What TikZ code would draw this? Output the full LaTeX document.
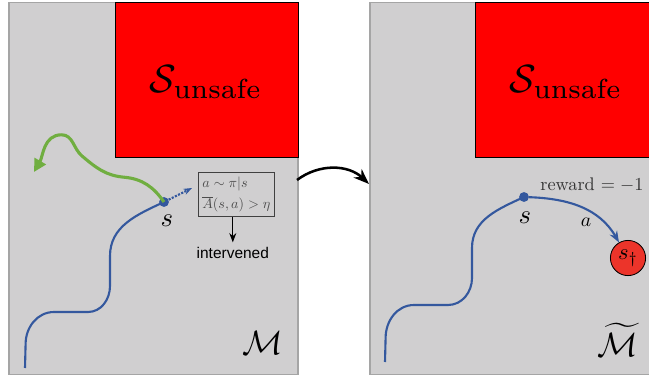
\documentclass[tikz,border=0pt]{standalone}
\usepackage{amsmath}
\usepackage{fontspec}
\newfontfamily\helv{Liberation Sans}
\usetikzlibrary{arrows.meta}
\definecolor{panelgray}{RGB}{208,207,208}
\definecolor{panelborder}{RGB}{165,165,165}
\definecolor{trajblue}{RGB}{52,88,158}
\definecolor{escgreen}{RGB}{112,174,64}
\definecolor{deadred}{RGB}{236,52,42}
\begin{document}
\begin{tikzpicture}[>=Stealth,
    panel/.style={fill=panelgray, draw=panelborder, line width=0.8pt},
    unsafe/.style={fill=red, draw=black, line width=0.6pt},
    traj/.style={trajblue, line width=1.5pt},
    dot/.style={circle, fill=trajblue, inner sep=0pt, minimum size=7pt},
    check/.style={draw=black!75, line width=0.6pt, text=black!70, align=left, inner sep=3pt},
    danger/.style={circle, fill=deadred, draw=black, line width=0.6pt, inner sep=0pt, minimum size=0.88cm}]
    \useasboundingbox (0,0) rectangle (16.225,9.4);

    % Panels and unsafe sets
    \draw[panel] (0.225,0.03) rectangle (7.45,9.33);
    \draw[unsafe] (2.875,5.475) rectangle (7.45,9.33);
    \node[scale=2.8] (unsafeL) at (5.15,7.35) {$\mathcal{S}_{\text{unsafe}}$};
    \draw[panel] (9.25,0.03) rectangle (16.6,9.33);
    \draw[unsafe] (11.875,5.475) rectangle (16.6,9.33);
    \node[scale=2.8] (unsafeR) at (14.15,7.35) {$\mathcal{S}_{\text{unsafe}}$};

    % Left: original MDP
    \node[dot] (sL) at (4.1,4.35) {};
    \node[scale=1.9] (sLlab) at (4.175,3.88) {$s$};
    \draw[traj] (0.625,0.2) -- (0.64,0.8) to[out=90,in=180] (1.35,1.6) -- (2.2,1.6)
        to[out=0,in=-90] (2.75,2.25) -- (2.75,3.0) to[out=90,in=205] (sL.center);
    \draw[escgreen, line width=2.2pt, -{Triangle[length=9pt,width=9pt]}] (sL.center)
        to[out=125,in=-5] (3.1,4.97) to[out=175,in=-40] (2.05,5.5)
        to[out=140,in=0] (1.54,6.03) to[out=180,in=60] (0.85,5.1);
    \node[check] (cond) at (5.91,4.54) {$a\sim\pi|s$\\[3pt]$\overline{A}(s,a)>\eta$};
    \coordinate (aL) at (4.8,4.7);
    \draw[traj, densely dotted, -{Stealth[length=6pt]}] (sL) -- (aL);
    \node[font=\helv\fontsize{11}{13}\selectfont] (interv) at (5.82,3.075) {intervened};
    \draw[->, thick] (cond.south -| interv.north) -- (interv.north);
    \node[scale=2.4] (M) at (6.575,0.825) {$\mathcal{M}$};

    % Transformation
    \coordinate (outL) at (7.425,4.9);
    \coordinate (inR) at (9.225,4.8);
    \draw[->, line width=1.8pt] (outL) to[bend left=40] (inR);

    % Right: modified MDP
    \node[dot] (sR) at (13.1,4.475) {};
    \node[scale=1.9] (sRlab) at (13.125,3.95) {$s$};
    \draw[traj] (9.625,0.35) -- (9.64,0.95) to[out=90,in=180] (10.35,1.775) -- (11.2,1.775)
        to[out=0,in=-90] (11.8,2.45) -- (11.8,3.2) to[out=90,in=205] (sR.center);
    \node[danger] (sdag) at (15.7,2.95) {\scalebox{1.6}{$s_\dagger$}};
    \draw[traj, -{Stealth[length=8pt]}] (sR) to[out=-2, in=120] (sdag);
    \node[scale=1.3, text=black!80] (rew) at (14.8,4.775) {reward $=-1$};
    \node[scale=1.4] (alab) at (14.65,3.85) {$a$};
    \node[scale=2.4] (Mt) at (15.45,0.9) {$\widetilde{\mathcal{M}}$};
\end{tikzpicture}
\end{document}
